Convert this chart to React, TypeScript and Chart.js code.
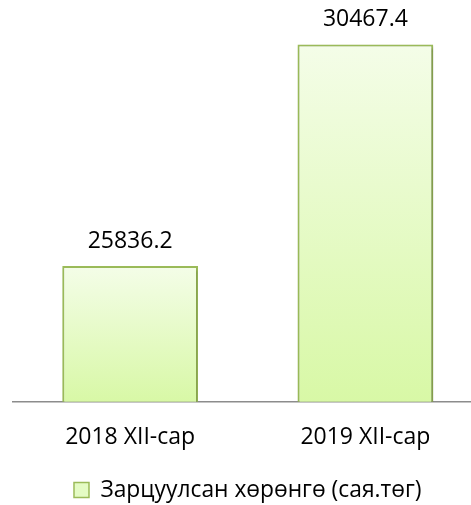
import React, { useEffect, useRef } from "react";
import { Chart, registerables } from "chart.js";

Chart.register(...registerables);

const categories: string[] = ["2018 XII-сар", "2019 XII-сар"];
const seriesName = "Зарцуулсан хөрөнгө (сая.төг)";
const values: number[] = [25836.2, 30467.4];
const valueLabels: string[] = ["25836.2", "30467.4"];

const FONT = "'Open Sans', 'Noto Sans', sans-serif";

const dataLabelPlugin = {
  id: "dataLabels",
  afterDatasetsDraw(chart: any) {
    const ctx = chart.ctx;
    const meta = chart.getDatasetMeta(0);
    ctx.save();
    ctx.font = `23px ${FONT}`;
    ctx.fillStyle = "#000000";
    ctx.textAlign = "center";
    ctx.textBaseline = "alphabetic";
    meta.data.forEach((bar: any, i: number) => {
      ctx.fillText(valueLabels[i], bar.x, bar.y - 18.5);
    });
    ctx.restore();
  },
};

const shadowPlugin = {
  id: "barShadow",
  beforeDatasetDraw(chart: any) {
    const ctx = chart.ctx;
    ctx.save();
    ctx.shadowColor = "rgba(0,0,0,0.28)";
    ctx.shadowBlur = 3;
    ctx.shadowOffsetX = 1.5;
    ctx.shadowOffsetY = 1.5;
  },
  afterDatasetDraw(chart: any) {
    chart.ctx.restore();
  },
};

export default function App() {
  const ref = useRef<HTMLCanvasElement | null>(null);

  useEffect(() => {
    if (!ref.current) return;
    const chart = new Chart(ref.current, {
      type: "bar",
      data: {
        labels: categories,
        datasets: [
          {
            label: seriesName,
            data: values,
            backgroundColor: (c: any) => {
              const ch = c.chart;
              const area = ch.chartArea;
              if (!area || c.type !== "data") return "#e4fbc4";
              const yTop = ch.scales.y.getPixelForValue(c.raw);
              const g = ch.ctx.createLinearGradient(0, yTop, 0, area.bottom);
              g.addColorStop(0, "#f4fde8");
              g.addColorStop(1, "#d8f8a6");
              return g;
            },
            borderColor: "#9bbb59",
            borderWidth: 2,
            borderSkipped: false,
            barPercentage: 0.577,
            categoryPercentage: 1,
          },
        ],
      },
      options: {
        responsive: false,
        animation: false,
        layout: { padding: { left: 12.5, right: 0, top: 19, bottom: -6.5 } },
        scales: {
          y: {
            display: false,
            min: 23000,
            max: 31000,
          },
          x: {
            grid: { display: false, drawTicks: false },
            border: { display: true, color: "#8c8c8c", width: 1.5 },
            ticks: {
              color: "#000000",
              font: { family: FONT, size: 23 },
              padding: 22,
            },
            afterFit: (scale: any) => {
              scale.height = 76;
            },
          },
        },
        plugins: {
          tooltip: { enabled: false },
          legend: {
            position: "bottom",
            labels: {
              font: { family: FONT, size: 22.8 },
              color: "#000000",
              boxWidth: 15,
              boxHeight: 15,
              padding: 1,
              generateLabels: () => [
                {
                  text: seriesName,
                  fillStyle: "#e4fbc4",
                  strokeStyle: "#9bbb59",
                  lineWidth: 1.5,
                  datasetIndex: 0,
                  hidden: false,
                },
              ],
            },
          },
        },
      },
      plugins: [shadowPlugin, dataLabelPlugin],
    } as any);
    return () => chart.destroy();
  }, []);

  return (
    <div
      style={{
        position: "absolute",
        left: 0,
        top: 0,
        width: 471,
        height: 505,
        overflow: "hidden",
        background: "#ffffff",
      }}
    >
      <canvas ref={ref} width={483} height={505} style={{ width: 483, height: 505 }} />
    </div>
  );
}
